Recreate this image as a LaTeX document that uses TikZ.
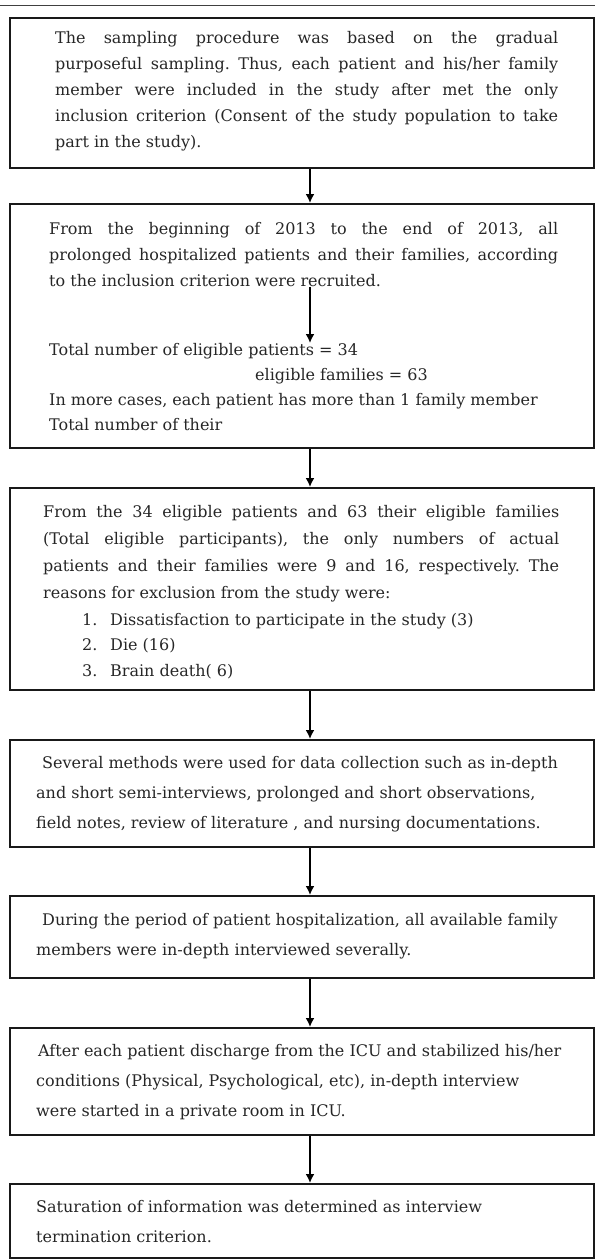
\documentclass[tikz,border=0pt]{standalone}
\usepackage{fontspec}
\setmainfont{DejaVu Serif}
\usetikzlibrary{arrows.meta}
\hyphenpenalty=10000
\tolerance=9999
\hbadness=10000
\frenchspacing

\begin{document}
\begin{tikzpicture}[x=1pt,y=-1pt,
    >={Latex[length=9pt,width=9pt]},
    box/.style={draw=black!90,line width=1.6pt,minimum width=584pt,anchor=north,inner sep=0pt},
    txt/.style={anchor=north west,inner sep=0pt,align=left,text=black!85,font=\fontsize{16}{30}\selectfont},
    jtxt/.style={txt,align=justify},
    link/.style={->,line width=1.7pt}]
  \useasboundingbox (0,0) rectangle (595,1259);
  % top rule
  \draw[line width=0.8pt,black!75] (0,5) -- (595,5);
  % boxes
  \node[box,minimum height=150pt] (b1) at (302,17) {};
  \node[box,minimum height=244pt] (b2) at (302,203) {};
  \node[box,minimum height=202pt] (b3) at (302,487) {};
  \node[box,minimum height=107pt] (b4) at (302,739) {};
  \node[box,minimum height=82pt]  (b5) at (302,895) {};
  \node[box,minimum height=107pt] (b6) at (302,1027) {};
  \node[box,minimum height=74pt]  (b7) at (302,1183) {};
  % texts
  \node[jtxt,text width=503pt,font=\fontsize{16}{26}\selectfont] (t1) at (55,31)
    {The sampling procedure was based on the gradual\linebreak
     purposeful sampling. Thus, each patient and his/her family\linebreak
     member were included in the study after met the only\linebreak
     inclusion criterion (Consent of the study population to take\linebreak
     part in the study).};
  \node[jtxt,text width=509pt,font=\fontsize{16}{26}\selectfont] (t2a) at (49,222)
    {From the beginning of 2013 to the end of 2013, all\linebreak
     prolonged hospitalized patients and their families, according\linebreak
     to the inclusion criterion were recruited.};
  \node[txt,font=\fontsize{16}{25}\selectfont] (t2b) at (49,343)
    {Total number of eligible patients = 34\\
     \hspace*{206pt}eligible families = 63\\
     In more cases, each patient has more than 1 family member\\
     Total number of their};
  \node[jtxt,text width=516pt,font=\fontsize{16}{27}\selectfont] (t3a) at (43,505)
    {From the 34 eligible patients and 63 their eligible families\linebreak
     (Total eligible participants), the only numbers of actual\linebreak
     patients and their families were 9 and 16, respectively. The\linebreak
     reasons for exclusion from the study were:};
  \node[txt,font=\fontsize{16}{25.5}\selectfont] (t3b) at (82,613)
    {\makebox[28pt][l]{1.}Dissatisfaction to participate in the study (3)\\
     \makebox[28pt][l]{2.}Die (16)\\
     \makebox[28pt][l]{3.}Brain death( 6)};
  \node[txt] (t4) at (36,756)
    {\hspace*{6pt}Several methods were used for data collection such as in-depth\\
     and short semi-interviews, prolonged and short observations,\\
     field notes, review of literature , and nursing documentations.};
  \node[txt] (t5) at (36,913)
    {\hspace*{6pt}During the period of patient hospitalization, all available family\\
     members were in-depth interviewed severally.};
  \node[txt] (t6) at (36,1044)
    {\hspace*{2pt}After each patient discharge from the ICU and stabilized his/her\\
     conditions (Physical, Psychological, etc), in-depth interview\\
     were started in a private room in ICU.};
  \node[txt] (t7) at (36,1200)
    {Saturation of information was determined as interview\\
     termination criterion.};
  % arrows
  \coordinate (ax) at (310,0);
  \draw[link] (b1.south -| ax) -- (b2.north -| ax);
  \draw[link] (t2a.south -| ax) -- (t2b.north -| ax);
  \draw[link] (b2.south -| ax) -- (b3.north -| ax);
  \draw[link] (b3.south -| ax) -- (b4.north -| ax);
  \draw[link] (b4.south -| ax) -- (b5.north -| ax);
  \draw[link] (b5.south -| ax) -- (b6.north -| ax);
  \draw[link] (b6.south -| ax) -- (b7.north -| ax);
\end{tikzpicture}
\end{document}
